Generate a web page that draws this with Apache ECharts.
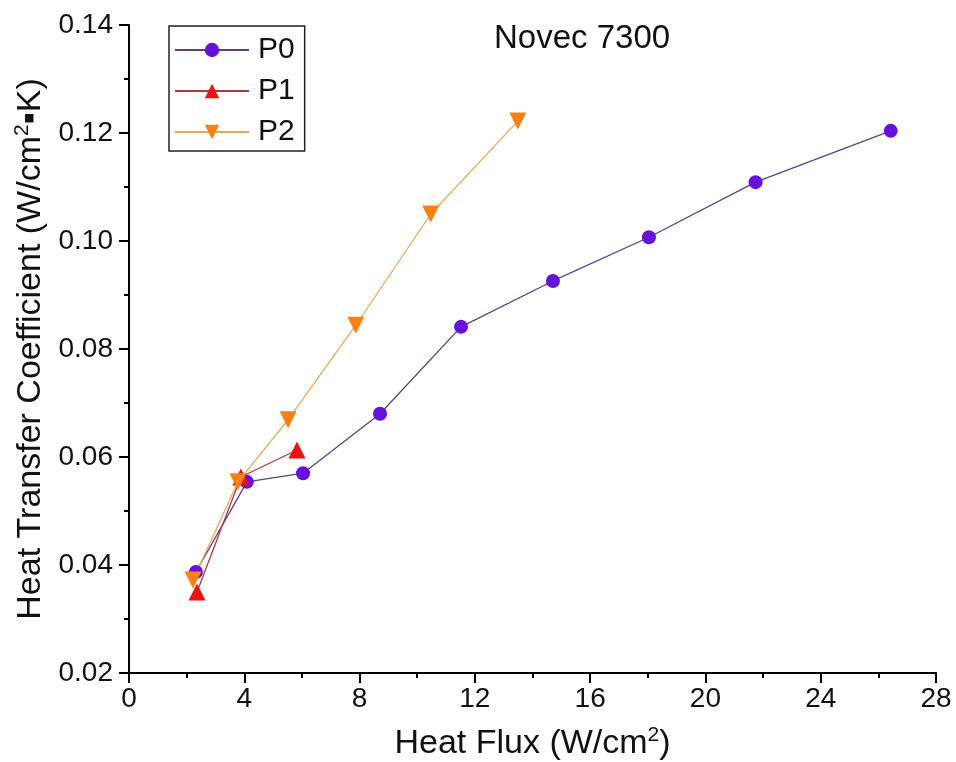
<!DOCTYPE html>
<html>
<head>
<meta charset="utf-8">
<script src="https://cdn.jsdelivr.net/npm/echarts@6/dist/echarts.min.js"></script>
<style>html,body{margin:0;padding:0;background:#fff;}#c{width:956px;height:762px;}</style>
</head>
<body>
<div id="c"></div>
<script>
const seriesNames = ['P0', 'P1', 'P2'];
const p0X = [2.32, 4.09, 6.04, 8.71, 11.52, 14.71, 18.04, 21.74, 26.43];
const p0Y = [0.0387, 0.0554, 0.0570, 0.0680, 0.0841, 0.0926, 0.1007, 0.1109, 0.1204];
const p1X = [2.36, 3.88, 5.83];
const p1Y = [0.0350, 0.0563, 0.0613];
const p2X = [2.22, 3.78, 5.52, 7.87, 10.47, 13.49];
const p2Y = [0.0372, 0.0554, 0.0669, 0.0844, 0.1050, 0.1222];
const titleText = 'Novec 7300';

const pairs = (xs, ys) => xs.map((x, i) => [x, ys[i]]);
const FONT = '"Liberation Sans", Arial, sans-serif';

const chart = echarts.init(document.getElementById('c'), null, {renderer: 'canvas'});
chart.setOption({
  backgroundColor: '#fff',
  animation: false,
  textStyle: {fontFamily: FONT},
  title: {
    text: titleText, left: 489, top: 17,
    textStyle: {fontFamily: FONT, fontSize: 33, fontWeight: 'normal', color: '#111'}
  },
  legend: {
    orient: 'vertical', left: 169, top: 26,
    padding: [7, 10, 2, 5],
    borderColor: '#222', borderWidth: 1.5,
    itemWidth: 74, itemHeight: 18, itemGap: 7,
    textStyle: {fontFamily: FONT, fontSize: 30, lineHeight: 34, color: '#111', padding: [0, 0, 0, 4]},
    data: seriesNames
  },
  grid: {left: 129, right: 20, top: 25, bottom: 89, containLabel: false, outerBoundsMode: 'none'},
  xAxis: {
    type: 'value', min: 0, max: 28, interval: 4,
    name: 'Heat Flux (W/cm{sup|2})', nameLocation: 'middle', nameGap: 52,
    nameTextStyle: {fontFamily: FONT, fontSize: 34, color: '#111',
      rich: {sup: {fontFamily: FONT, fontSize: 21, padding: [0, 0, 16, 0]}}},
    axisLine: {show: true, onZero: false, lineStyle: {color: '#000', width: 2}},
    axisTick: {show: true, inside: false, length: 10, lineStyle: {color: '#000', width: 2}},
    minorTick: {show: true, splitNumber: 2, length: 5, lineStyle: {color: '#000', width: 2}},
    axisLabel: {fontFamily: FONT, fontSize: 28, color: '#111', margin: 12},
    splitLine: {show: false}
  },
  yAxis: {
    type: 'value', min: 0.02, max: 0.14, interval: 0.02,
    name: 'Heat Transfer Coefficient (W/cm{sup|2}▪K)', nameLocation: 'middle', nameGap: 77,
    nameTextStyle: {fontFamily: FONT, fontSize: 34, color: '#111',
      rich: {sup: {fontFamily: FONT, fontSize: 21, padding: [0, 0, 16, 0]}}},
    axisLine: {show: true, onZero: false, lineStyle: {color: '#000', width: 2}},
    axisTick: {show: true, inside: false, length: 10, lineStyle: {color: '#000', width: 2}},
    minorTick: {show: true, splitNumber: 2, length: 5, lineStyle: {color: '#000', width: 2}},
    axisLabel: {fontFamily: FONT, fontSize: 28, color: '#111', margin: 16,
      formatter: v => v.toFixed(2)},
    splitLine: {show: false}
  },
  series: [
    {
      name: seriesNames[0], type: 'line', data: pairs(p0X, p0Y),
      symbol: 'circle', symbolSize: 14,
      itemStyle: {color: '#6611dd'},
      lineStyle: {color: '#5b3f8f', width: 1.3}
    },
    {
      name: seriesNames[1], type: 'line', data: pairs(p1X, p1Y),
      symbol: 'triangle', symbolSize: 17,
      itemStyle: {color: '#ee1111'},
      lineStyle: {color: '#a83a44', width: 1.3}
    },
    {
      name: seriesNames[2], type: 'line', data: pairs(p2X, p2Y),
      symbol: 'triangle', symbolSize: 17, symbolRotate: 180,
      itemStyle: {color: '#ff8010'},
      lineStyle: {color: '#e8a85a', width: 1.3}
    }
  ]
});
</script>
</body>
</html>
